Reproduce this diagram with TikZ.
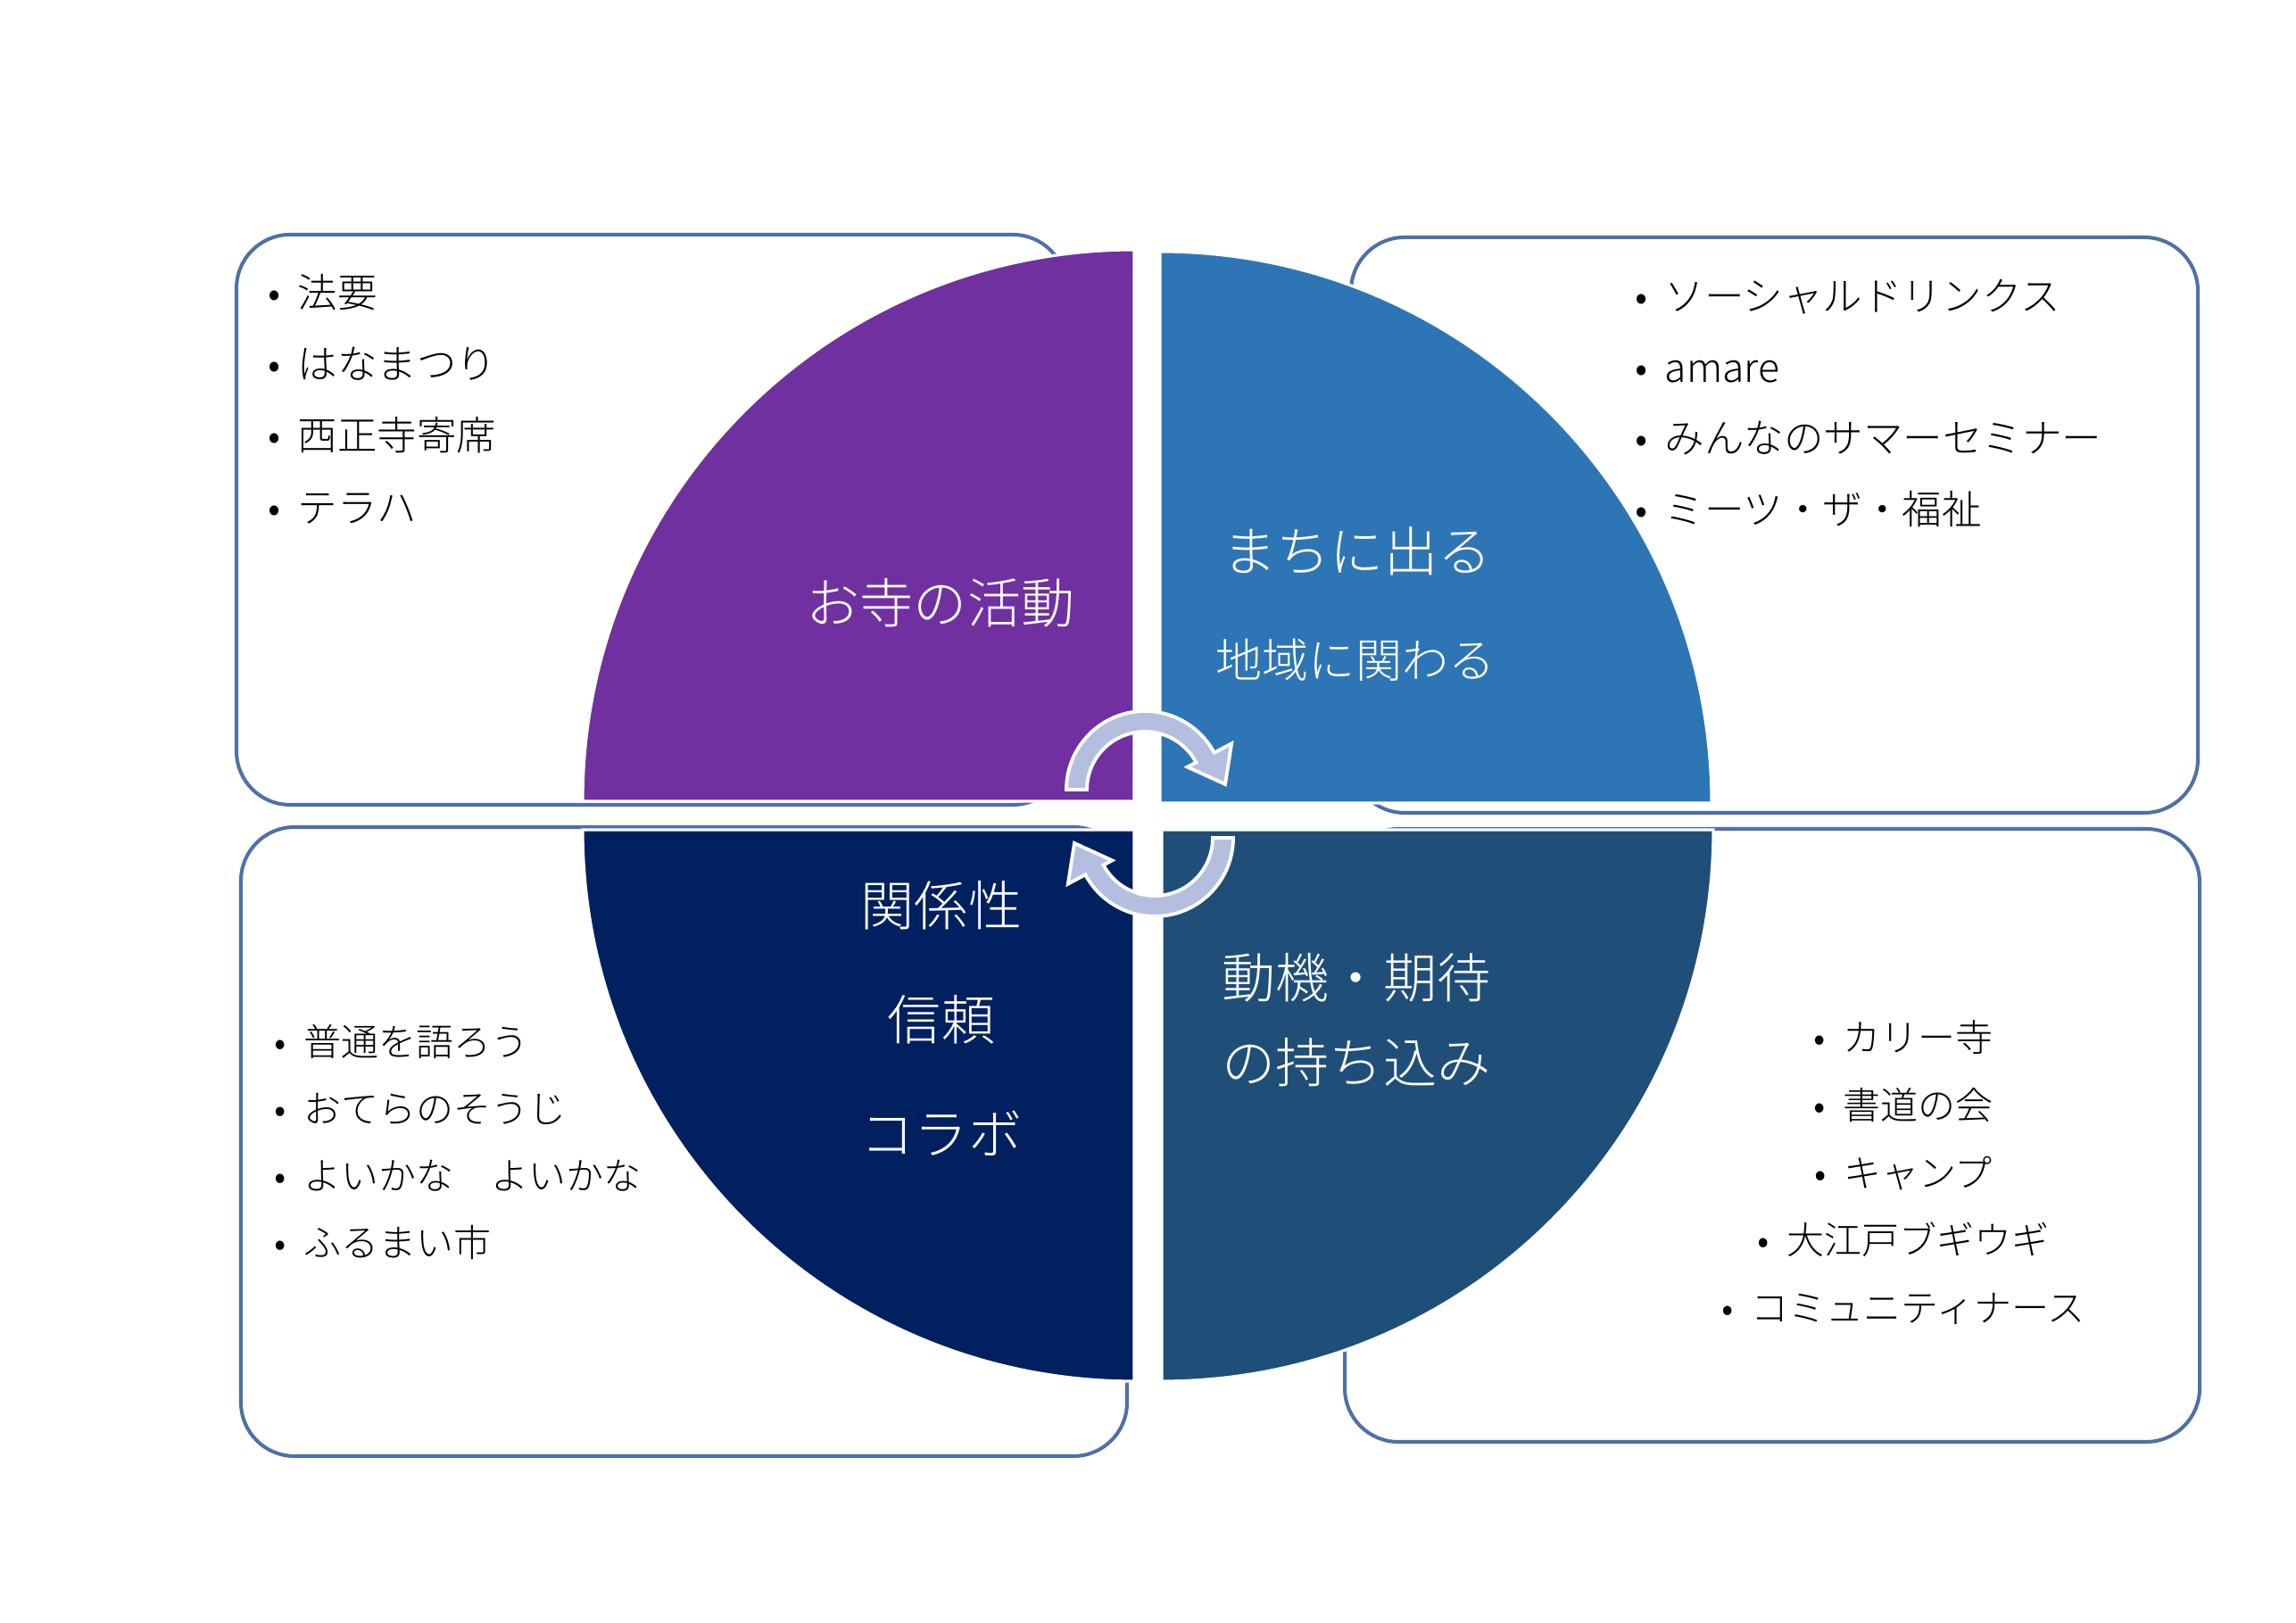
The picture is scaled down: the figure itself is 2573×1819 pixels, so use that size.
\documentclass[tikz,border=0pt]{standalone}
\usepackage{fontspec}
\IfFontExistsTF{Noto Sans CJK JP Light}
  {\newfontfamily\jpfont{Noto Sans CJK JP Light}}
  {\newfontfamily\jpfont{Noto Sans CJK JP}}
\definecolor{qpurple}{HTML}{7030A0}
\definecolor{qblue}{HTML}{2E75B6}
\definecolor{qnavy}{HTML}{002060}
\definecolor{qsteel}{HTML}{1F4E79}
\definecolor{qline}{HTML}{4F6FA8}
\definecolor{qarrow}{HTML}{B4BFDF}
\newcommand{\bul}{\makebox[0.33cm][l]{•}}

\begin{document}
\begin{tikzpicture}[x=0.01cm,y=0.01cm,
  quad/.style={draw=white,line width=0.9pt},
  panel/.style={draw=qline,line width=1.15pt,rounded corners=0.6cm},
  ttl/.style={text=white,inner sep=0pt,align=center,
              font=\jpfont\fontsize{17.1pt}{20pt}\selectfont},
  lst/.style={inner sep=0pt,anchor=west,align=left},
  cyc/.style={fill=qarrow,draw=white,line width=1.1pt}
]
\useasboundingbox (0,0) rectangle (2573,1819);

% ---- Outline panels -----------------------------------------
\draw[panel] (265,917) rectangle (1195,1556);
\draw[panel] (1514,908) rectangle (2463,1553);
\draw[panel] (270,187) rectangle (1263,892);
\draw[panel] (1507,203) rectangle (2465,890);

% ---- Quadrants ----------------------------------------------
\path[quad,fill=qpurple] (1271,921) -- ++(-618,0)
  arc[start angle=180,end angle=90,radius=618] -- cycle;
\path[quad,fill=qblue] (1300,919) -- ++(0,618)
  arc[start angle=90,end angle=0,radius=618] -- cycle;
\path[quad,fill=qnavy] (1271,889) -- ++(-618,0)
  arc[start angle=180,end angle=270,radius=618] -- cycle;
\path[quad,fill=qsteel] (1302,889) -- ++(618,0)
  arc[start angle=0,end angle=-90,radius=618] -- cycle;

% ---- Cycle arrows -------------------------------------------
\coordinate (cw) at (1283,934);
\coordinate (ccw) at (1294,880);
\begin{scope}[shift={(cw)}]
  \path[cyc] (180:88) arc[start angle=180,end angle=28,radius=88]
    -- (28:110) -- (90,6) -- (28:54) -- (28:65)
    arc[start angle=28,end angle=180,radius=65] -- cycle;
\end{scope}
\begin{scope}[shift={(ccw)},rotate=180]
  \path[cyc] (180:88) arc[start angle=180,end angle=28,radius=88]
    -- (28:110) -- (90,6) -- (28:54) -- (28:65)
    arc[start angle=28,end angle=180,radius=65] -- cycle;
\end{scope}

% ---- Quadrant titles ----------------------------------------
\node[ttl] (q1) at (1054,1143) {お寺の活動};
\node[ttl] (q2) at (1521,1201) {まちに出る};
\node[ttl,font=\jpfont\fontsize{14.8pt}{18pt}\selectfont] (q2b) at (1519,1079) {地域に関わる};
\node[ttl,font=\jpfont\fontsize{17.1pt}{36.4pt}\selectfont] (q3) at (1055,678)
  {関係性\\信頼\\コラボ};
\node[ttl,font=\jpfont\fontsize{17.1pt}{27pt}\selectfont] (q4) at (1520,676)
  {動機・期待\\の持ち込み};

% ---- Lists --------------------------------------------------
\node[lst,font=\jpfont\fontsize{12.66pt}{22.85pt}\selectfont] (l1) at (300,1372)
  {\bul 法要\\ \bul はなまつり\\ \bul 西正寺寄席\\ \bul テラハ};
\node[lst,font=\jpfont\fontsize{12.66pt}{22.7pt}\selectfont] (l2) at (1832,1367)
  {\bul ソーシャルドリンクス\\ \bul amare\\ \bul みんなのサマーセミナー\\ \bul ミーツ・ザ・福祉};
\node[lst,font=\jpfont\fontsize{11.95pt}{21.4pt}\selectfont] (l3) at (307,539)
  {\bul 普通を語ろう\\ \bul おてらのそうじ\\ \bul よいかな　よいかな\\ \bul ふるまい市};
\node[inner sep=0pt,align=center,font=\jpfont\fontsize{11.95pt}{21.55pt}\selectfont] (l4) at (2133,505)
  {\bul カリー寺\\ \bul 書道の会\\ \bul キャンプ\\ \bul 大江戸ブギウギ\\ \bul コミュニティナース};

\end{tikzpicture}
\end{document}
